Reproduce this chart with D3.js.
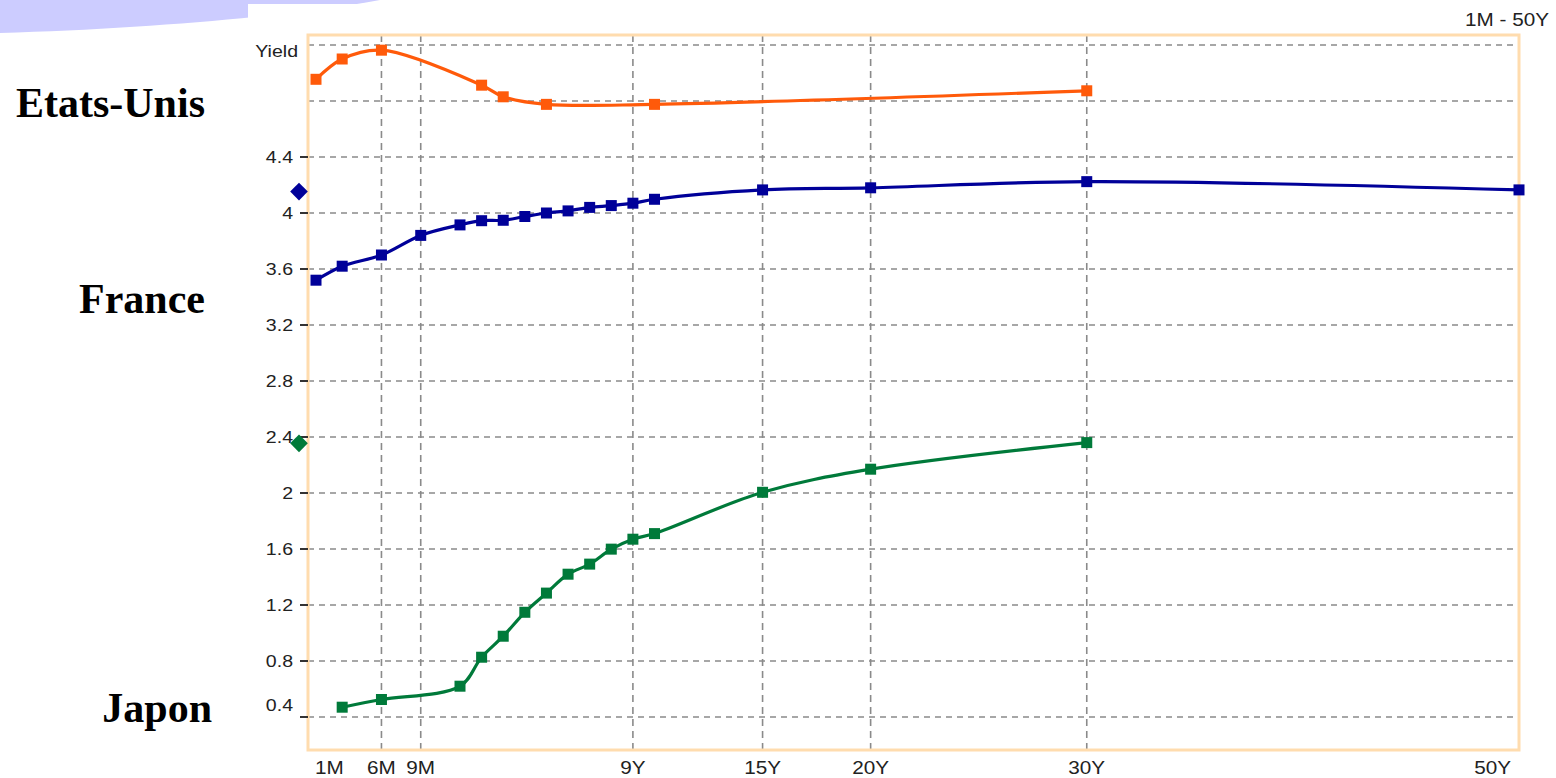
<!DOCTYPE html>
<html>
<head>
<meta charset="utf-8">
<script src="https://d3js.org/d3.v7.min.js"></script>
<style>
  body { margin: 0; background: #fff; }
  svg { display: block; }
</style>
</head>
<body>
<div id="my_dataviz"></div>
<script>
// yields, one list per country
var usTenors = ["1M","3M","6M","2Y","3Y","5Y","10Y","30Y"];
var usYields = [4.955, 5.10, 5.163, 4.913, 4.83, 4.776, 4.776, 4.873];

var frTenors = ["1M","3M","6M","9M","1Y","2Y","3Y","4Y","5Y","6Y","7Y","8Y","9Y","10Y","15Y","20Y","30Y","50Y"];
var frYields = [3.52, 3.62, 3.70, 3.84, 3.915, 3.945, 3.948, 3.975, 4.00, 4.015, 4.04, 4.053, 4.07, 4.098, 4.165, 4.18, 4.224, 4.165];

var jpTenors = ["3M","6M","1Y","2Y","3Y","4Y","5Y","6Y","7Y","8Y","9Y","10Y","15Y","20Y","30Y"];
var jpYields = [0.47, 0.525, 0.62, 0.827, 0.977, 1.148, 1.285, 1.42, 1.492, 1.599, 1.67, 1.71, 2.005, 2.17, 2.36];

// the diamonds on the left edge of the frame
var spotFR = 4.153;
var spotJP = 2.355;

var xTicks = ["1M","6M","9M","9Y","15Y","20Y","30Y","50Y"];
var yTicks = [4.4, 4, 3.6, 3.2, 2.8, 2.4, 2, 1.6, 1.2, 0.8, 0.4];
var yGrid = [5.2, 4.8].concat(yTicks);

var countries = ["Etats-Unis", "France", "Japon"];

// "6M" -> 0.5, "15Y" -> 15
function years(t) {
  var n = parseFloat(t);
  return t.slice(-1) === "M" ? n / 12 : n;
}
function pairs(tenors, vals) {
  return tenors.map(function(t, i) { return {t: years(t), v: vals[i]}; });
}
// the chart's small font is a bit wide, stretch it sideways
function place(px, py) {
  return "translate(" + px + "," + py + ") scale(1.15,1)";
}

var W = 1556, H = 778;
var margin = {top: 35, left: 308},
    width = 1211,
    height = 715;

var svg = d3.select("#my_dataviz")
  .append("svg")
    .attr("width", W)
    .attr("height", H);

// lavender slide decoration in the corner, panel drawn over it
svg.append("path")
  .attr("d", "M0,0 H380 C300,15 150,29 0,33 Z")
  .attr("fill", "#ccccff");
svg.append("rect")
  .attr("x", 248).attr("y", 4)
  .attr("width", W - 248).attr("height", H - 4)
  .attr("fill", "#fff");

svg.append("text")
  .text("1M - 50Y")
  .attr("transform", place(1549, 26))
  .attr("text-anchor", "end")
  .style("font-family", "Liberation Sans, Arial, sans-serif")
  .style("font-size", "18px")
  .attr("fill", "#222");

// country names in bold serif
var labelPos = [[205, 117], [205, 313], [212, 722]];
svg.selectAll(".country")
  .data(countries)
  .enter().append("text")
    .attr("class", "country")
    .text(function(d) { return d; })
    .attr("x", function(d, i) { return labelPos[i][0]; })
    .attr("y", function(d, i) { return labelPos[i][1]; })
    .attr("text-anchor", "end")
    .style("font-family", "Liberation Serif, Times New Roman, serif")
    .style("font-weight", "bold")
    .style("font-size", "42px")
    .attr("fill", "#000");

var g = svg.append("g")
  .attr("transform", "translate(" + margin.left + "," + margin.top + ")");

// piecewise x: the money market part is stretched
var x = d3.scaleLinear()
  .domain([1/12, 1, 50])
  .range([8, 152, width]);

var y = d3.scaleLinear()
  .domain([0.4, 5.2])
  .range([682, 10]);

// grid
g.selectAll(".hgrid")
  .data(yGrid)
  .enter().append("line")
    .attr("x1", 0).attr("x2", width)
    .attr("y1", function(d) { return y(d); })
    .attr("y2", function(d) { return y(d); })
    .attr("stroke", "#8a8a8a")
    .attr("stroke-width", 1.6)
    .attr("stroke-dasharray", "6,5");

g.selectAll(".vgrid")
  .data(xTicks.filter(function(t) { return t !== "1M" && t !== "50Y"; }))
  .enter().append("line")
    .attr("x1", function(d) { return x(years(d)); })
    .attr("x2", function(d) { return x(years(d)); })
    .attr("y1", 0).attr("y2", height)
    .attr("stroke", "#8a8a8a")
    .attr("stroke-width", 1.6)
    .attr("stroke-dasharray", "7,5");

// frame
g.append("rect")
  .attr("width", width).attr("height", height)
  .attr("fill", "none")
  .attr("stroke", "#ffdcae")
  .attr("stroke-width", 3);

// y ticks + labels
g.selectAll(".ytick")
  .data(yTicks)
  .enter().append("line")
    .attr("x1", -8).attr("x2", 0)
    .attr("y1", function(d) { return y(d); })
    .attr("y2", function(d) { return y(d); })
    .attr("stroke", "#333")
    .attr("stroke-width", 2);

g.selectAll(".ylab")
  .data(yTicks)
  .enter().append("text")
    .text(function(d) { return d; })
    .attr("transform", function(d) { return place(-15, y(d) - (d === 0.4 ? 12 : 0)); })
    .attr("dy", "0.35em")
    .attr("text-anchor", "end")
    .style("font-family", "Liberation Sans, Arial, sans-serif")
    .style("font-size", "17px")
    .attr("fill", "#222");

g.append("text")
  .text("Yield")
  .attr("transform", place(-10, 22))
  .attr("text-anchor", "end")
  .style("font-family", "Liberation Sans, Arial, sans-serif")
  .style("font-size", "17px")
  .attr("fill", "#222");

// x labels, the two end ones pushed inside
g.selectAll(".xlab")
  .data(xTicks)
  .enter().append("text")
    .text(function(d) { return d; })
    .attr("transform", function(d, i) {
      var px = x(years(d));
      if (i === 0) px -= 1;
      if (i === xTicks.length - 1) px -= 8;
      return place(px, height + 24);
    })
    .attr("text-anchor", function(d, i) {
      return i === 0 ? "start" : (i === xTicks.length - 1 ? "end" : "middle");
    })
    .style("font-family", "Liberation Sans, Arial, sans-serif")
    .style("font-size", "18px")
    .attr("fill", "#222");

// curves
var series = [
  {name: "Etats-Unis", color: "#ff5a0a", data: pairs(usTenors, usYields)},
  {name: "France", color: "#000099", data: pairs(frTenors, frYields)},
  {name: "Japon", color: "#007a3a", data: pairs(jpTenors, jpYields)}
];

var line = d3.line()
  .x(function(d) { return x(d.t); })
  .y(function(d) { return y(d.v); })
  .curve(d3.curveCatmullRom);

series.forEach(function(s) {
  g.append("path")
    .datum(s.data)
    .attr("d", line)
    .attr("fill", "none")
    .attr("stroke", s.color)
    .attr("stroke-width", 3.2);

  g.selectAll(null)
    .data(s.data)
    .enter().append("rect")
      .attr("x", function(d) { return x(d.t) - 5.5; })
      .attr("y", function(d) { return y(d.v) - 5.5; })
      .attr("width", 11).attr("height", 11)
      .attr("fill", s.color);
});

// spot diamonds on the axis
var spots = [{v: spotFR, color: "#000099"}, {v: spotJP, color: "#007a3a"}];
g.selectAll(".spot")
  .data(spots)
  .enter().append("rect")
    .attr("width", 12.5).attr("height", 12.5)
    .attr("x", -6.25).attr("y", -6.25)
    .attr("transform", function(d) { return "translate(-9," + y(d.v) + ") rotate(45)"; })
    .attr("fill", function(d) { return d.color; });
</script>
</body>
</html>
